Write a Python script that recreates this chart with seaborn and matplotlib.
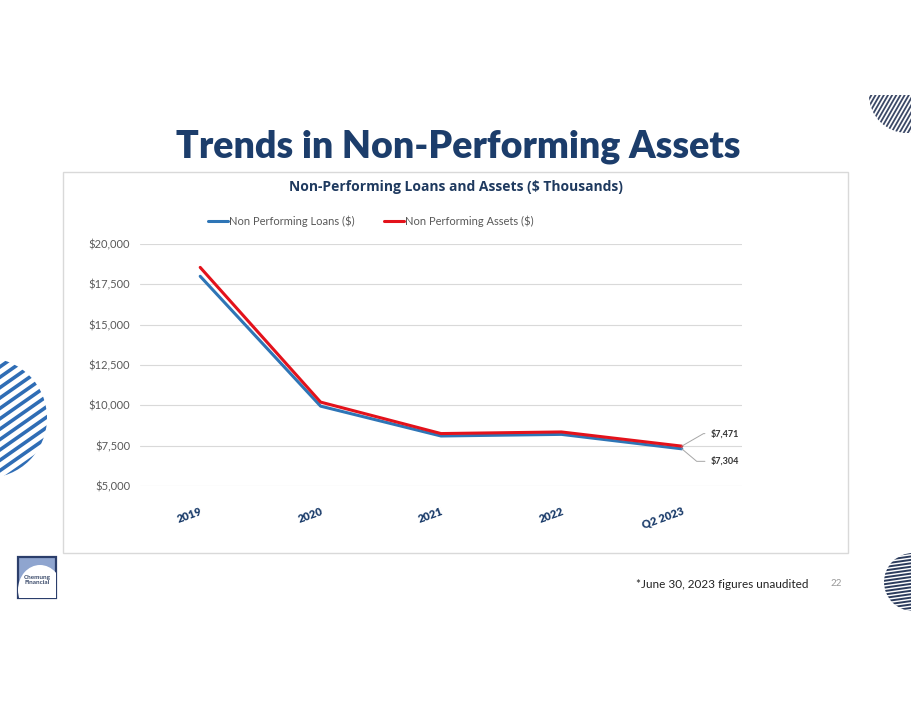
import numpy as np
import pandas as pd
import matplotlib
matplotlib.use('Agg')
import matplotlib.pyplot as plt
from matplotlib.patches import Circle, Wedge, Rectangle, Ellipse
import seaborn as sns

# values ($ thousands)
periods = ['2019', '2020', '2021', '2022', 'Q2 2023']
loans = [18000, 9950, 8100, 8200, 7304]
assets = [18550, 10200, 8250, 8350, 7471]
series_names = ['Non Performing Loans ($)', 'Non Performing Assets ($)']
y_ticks = [5000, 7500, 10000, 12500, 15000, 17500, 20000]

BLUE = '#2e75b6'
RED = '#e3121b'
NAVY = '#1c3d6b'

sns.set_style('white')
plt.rcParams['font.family'] = ['Lato', 'DejaVu Sans']

fig = plt.figure(figsize=(9.11, 7.04), dpi=100)

# background layer in pixel coords for slide decorations
bg = fig.add_axes([0, 0, 1, 1])
bg.set_xlim(0, 911)
bg.set_ylim(704, 0)
bg.axis('off')


def striped_shape(shape, angle, gap, lw, color):
    bg.add_patch(shape)
    cx, cy = shape.center
    r = shape.r if hasattr(shape, 'r') else shape.radius
    d = np.array([np.cos(np.radians(angle)), np.sin(np.radians(angle))])
    n = np.array([-d[1], d[0]])
    for k in np.arange(-r, r + gap, gap):
        p0 = np.array([cx, cy]) + n * k - d * r * 1.3
        p1 = np.array([cx, cy]) + n * k + d * r * 1.3
        ln, = bg.plot([p0[0], p1[0]], [p0[1], p1[1]], color=color, lw=lw,
                      solid_capstyle='butt')
        ln.set_clip_path(shape)


striped_shape(Circle((-13, 418), 60, facecolor='none', edgecolor='none'), -35, 8.5, 2.6, '#2f6db5')
striped_shape(Wedge((907, 95), 38, 0, 180, facecolor='none', edgecolor='none'), -60, 3.6, 1.3, '#3b4866')
striped_shape(Circle((913, 582), 29, facecolor='none', edgecolor='none'), -8, 3.4, 1.4, '#2b3b5c')

# chart panel frame
bg.add_patch(Rectangle((63, 172), 785, 381, facecolor='white', edgecolor='#d9d9d9', lw=1))

# logo box
bg.add_patch(Rectangle((18, 557), 38, 41, facecolor='#8fa5cf', edgecolor='#2b3e6b', lw=1.6))
bg.add_patch(Ellipse((40, 590), 44, 50, facecolor='white', edgecolor='none', clip_on=True))
bg.patches[-1].set_clip_path(bg.patches[-2])
bg.text(37, 580, 'Chemung\nFinancial', fontsize=4.6, color='#3a4a6a', ha='center', va='center',
        fontweight='bold', linespacing=0.9)

fig.text(458 / 911, 1 - 147 / 704, 'Trends in Non-Performing Assets', fontsize=27,
         fontweight='heavy', color=NAVY, ha='center', va='center')
fig.text(456 / 911, 1 - 187 / 704, 'Non-Performing Loans and Assets ($ Thousands)', fontsize=10,
         fontweight='bold', color='#1f3a5f', ha='center', va='center', family=['Open Sans', 'DejaVu Sans'])
fig.text(808 / 911, 1 - 584 / 704, '*June 30, 2023 figures unaudited', fontsize=8.5,
         color='#222222', ha='right', va='center')
fig.text(836 / 911, 1 - 584 / 704, '22', fontsize=7, color='#999999', ha='center', va='center')

# main chart
ax = fig.add_axes([140 / 911, 1 - 486 / 704, 602 / 911, 242 / 704])
df = pd.DataFrame({
    'period': periods * 2,
    'value': loans + assets,
    'series': [series_names[0]] * len(periods) + [series_names[1]] * len(periods),
})
sns.lineplot(data=df, x='period', y='value', hue='series', palette=[BLUE, RED],
             linewidth=2.2, sort=False, ax=ax)
ax.set_xlim(-0.5, len(periods) - 0.5)
ax.set_ylim(y_ticks[0], y_ticks[-1])
ax.set_yticks(y_ticks)
ax.set_yticklabels(['${:,}'.format(v) for v in y_ticks], fontsize=8, color='#595959')
ax.set_xticks(range(len(periods)))
ax.set_xticklabels(periods, rotation=20, ha='right', rotation_mode='anchor',
                   fontsize=8, fontweight='heavy', color=NAVY)
ax.tick_params(axis='x', length=0, pad=14)
ax.tick_params(axis='y', length=0, pad=7)
ax.set_xlabel('')
ax.set_ylabel('')
ax.yaxis.grid(True, color='#d9d9d9', lw=0.8)
ax.xaxis.grid(False)
for s in ax.spines.values():
    s.set_visible(False)
for ln in ax.lines:
    ln.set_clip_on(False)

handles, labels = ax.get_legend_handles_labels()
ax.get_legend().remove()
fig.legend(handles, labels, loc='center left', bbox_to_anchor=(208 / 911, 1 - 221 / 704),
           ncol=2, frameon=False, fontsize=8, handlelength=1.8, handletextpad=0.1,
           columnspacing=2.6, borderpad=0, borderaxespad=0, labelcolor='#595959')

last = len(periods) - 1
ax.annotate('${:,}'.format(assets[-1]), xy=(last, assets[-1]), xytext=(21, 9),
            textcoords='offset points', fontsize=6.5, fontweight='bold', color='#333333',
            va='center', ha='left',
            arrowprops=dict(arrowstyle='-', color='#a6a6a6', lw=0.7, shrinkA=2, shrinkB=0,
                            connectionstyle='angle,angleA=0,angleB=30,rad=0'))
ax.annotate('${:,}'.format(loans[-1]), xy=(last, loans[-1]), xytext=(21, -9),
            textcoords='offset points', fontsize=6.5, fontweight='bold', color='#333333',
            va='center', ha='left',
            arrowprops=dict(arrowstyle='-', color='#a6a6a6', lw=0.7, shrinkA=2, shrinkB=0,
                            connectionstyle='angle,angleA=0,angleB=-40,rad=0'))

fig.savefig('out.png', dpi=100)
